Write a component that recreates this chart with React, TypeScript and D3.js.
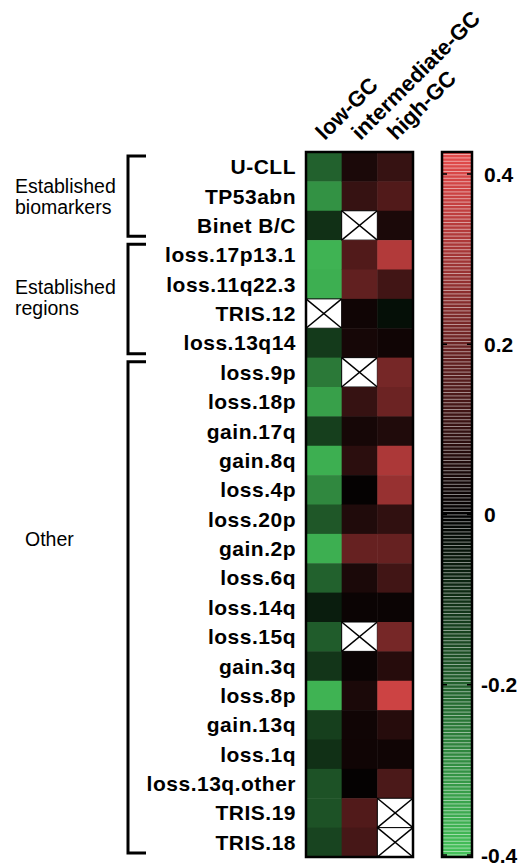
import React from 'react';
import * as d3 from 'd3';

// rows of the heatmap, top to bottom
const rows = [
  'U-CLL', 'TP53abn', 'Binet B/C',
  'loss.17p13.1', 'loss.11q22.3', 'TRIS.12', 'loss.13q14',
  'loss.9p', 'loss.18p', 'gain.17q', 'gain.8q', 'loss.4p', 'loss.20p', 'gain.2p',
  'loss.6q', 'loss.14q', 'loss.15q', 'gain.3q', 'loss.8p', 'gain.13q', 'loss.1q',
  'loss.13q.other', 'TRIS.19', 'TRIS.18',
];

const columns = ['low-GC', 'intermediate-GC', 'high-GC'];

// correlation per row, null = not available (crossed cell)
const lowGC = [
  -0.2, -0.3, -0.1,
  -0.37, -0.36, null, -0.12,
  -0.25, -0.33, -0.13, -0.36, -0.28, -0.18, -0.36,
  -0.2, -0.06, -0.19, -0.11, -0.37, -0.13, -0.1,
  -0.17, -0.17, -0.14,
];
const intermediateGC = [
  0.05, 0.1, null,
  0.15, 0.18, 0.03, 0.04,
  null, 0.1, 0.04, 0.08, 0.01, 0.06, 0.19,
  0.05, 0.02, null, 0.02, 0.05, 0.03, 0.03,
  0.01, 0.15, 0.13,
];
const highGC = [
  0.1, 0.15, 0.05,
  0.33, 0.12, -0.03, 0.03,
  0.22, 0.2, 0.06, 0.32, 0.28, 0.09, 0.19,
  0.12, 0.02, 0.22, 0.07, 0.38, 0.07, 0.03,
  0.14, null, null,
];

const groupLabels = [['Established', 'biomarkers'], ['Established', 'regions'], ['Other']];
const groupStarts = ['U-CLL', 'loss.17p13.1', 'loss.9p'];
const groupEnds = ['Binet B/C', 'loss.13q14', 'TRIS.18'];

const colorTicks = [0.4, 0.2, 0, -0.2, -0.4];

const W = 520;
const H = 866;
const font = 'Liberation Sans, Arial, sans-serif';

export default function App() {
  const series = [lowGC, intermediateGC, highGC];

  const x = d3.scaleBand<string>().domain(columns).range([306, 413]);
  const y = d3.scaleBand<string>().domain(rows).range([152, 857]);
  const color = d3.scaleLinear<string>()
    .domain([-0.4, 0, 0.42])
    .range(['#44c25a', '#000000', '#e24a4a'])
    .clamp(true);

  // colorbar
  const cy = d3.scaleLinear().domain([-0.4, 0.4]).range([855, 174]);
  const barTop = 152;
  const barBottom = 857;
  const barX = 442;
  const barW = 30;
  const strips = d3.range(barTop, barBottom, 1);

  // groups: label centres
  const labelCenter = [196, 297, 539];

  return (
    <svg width={W} height={H} style={{ position: 'absolute', left: 0, top: 0, background: '#fff' }}>
      {/* column headers */}
      {columns.map((c) => (
        <text
          key={c}
          transform={`translate(${(x(c) ?? 0) + x.bandwidth() / 2 + 1},${141}) rotate(-45)`}
          fontFamily={font}
          fontWeight="bold"
          fontSize={22}
        >
          {c}
        </text>
      ))}

      {/* heatmap cells */}
      {series.map((vals, ci) =>
        vals.map((v, ri) => {
          const cx = x(columns[ci]) ?? 0;
          const ry = y(rows[ri]) ?? 0;
          const w = x.bandwidth();
          const h = y.bandwidth();
          if (v === null) {
            return (
              <g key={`${ci}-${ri}`}>
                <rect x={cx} y={ry} width={w} height={h} fill="#fff" stroke="#000" strokeWidth={1} />
                <line x1={cx} y1={ry} x2={cx + w} y2={ry + h} stroke="#000" strokeWidth={1.5} />
                <line x1={cx} y1={ry + h} x2={cx + w} y2={ry} stroke="#000" strokeWidth={1.5} />
              </g>
            );
          }
          return <rect key={`${ci}-${ri}`} x={cx} y={ry} width={w + 0.5} height={h + 0.5} fill={color(v)} />;
        })
      )}
      <rect x={306} y={152} width={107} height={705} fill="none" stroke="#000" strokeWidth={2.5} />

      {/* row labels */}
      {rows.map((r) => (
        <text
          key={r}
          x={296}
          y={(y(r) ?? 0) + y.bandwidth() / 2}
          dy="0.36em"
          textAnchor="end"
          fontFamily={font}
          fontWeight="bold"
          fontSize={21}
          letterSpacing={0.5}
        >
          {r}
        </text>
      ))}

      {/* brackets + group labels */}
      {groupLabels.map((lines, gi) => {
        const y0 = (y(groupStarts[gi]) ?? 0) + 4;
        const y1 = (y(groupEnds[gi]) ?? 0) + y.bandwidth() - 4;
        const bx = 128;
        return (
          <g key={gi}>
            <path
              d={`M${bx + 18},${y0}H${bx}V${y1}H${bx + 18}`}
              fill="none"
              stroke="#000"
              strokeWidth={3}
            />
            {lines.map((t, li) => (
              <text
                key={li}
                x={gi === 2 ? 25 : 15}
                y={labelCenter[gi] + (li - (lines.length - 1) / 2) * 21}
                dy="0.36em"
                fontFamily={font}
                fontSize={19.5}
              >
                {t}
              </text>
            ))}
          </g>
        );
      })}

      {/* colorbar */}
      {strips.map((s) => (
        <rect key={s} x={barX} y={s} width={barW} height={1.2} fill={color(cy.invert(s + 0.5))} />
      ))}
      {d3.range(barTop + 2, barBottom, 3.4).map((s) => (
        <rect key={`w${s}`} x={barX} y={s} width={barW} height={1} fill="#fff" opacity={0.5} />
      ))}
      <rect x={barX} y={barTop} width={barW} height={barBottom - barTop} fill="none" stroke="#000" strokeWidth={2.5} />
      {colorTicks.map((t) => (
        <g key={t}>
          <line x1={barX} x2={barX + 5} y1={cy(t)} y2={cy(t)} stroke="#000" strokeWidth={1.5} />
          <line x1={barX + barW - 5} x2={barX + barW} y1={cy(t)} y2={cy(t)} stroke="#000" strokeWidth={1.5} />
          <text
            x={t < 0 ? 481 : 484}
            y={cy(t)}
            dy="0.36em"
            fontFamily={font}
            fontWeight="bold"
            fontSize={21}
          >
            {t === 0 ? '0' : t.toFixed(1)}
          </text>
        </g>
      ))}
    </svg>
  );
}
